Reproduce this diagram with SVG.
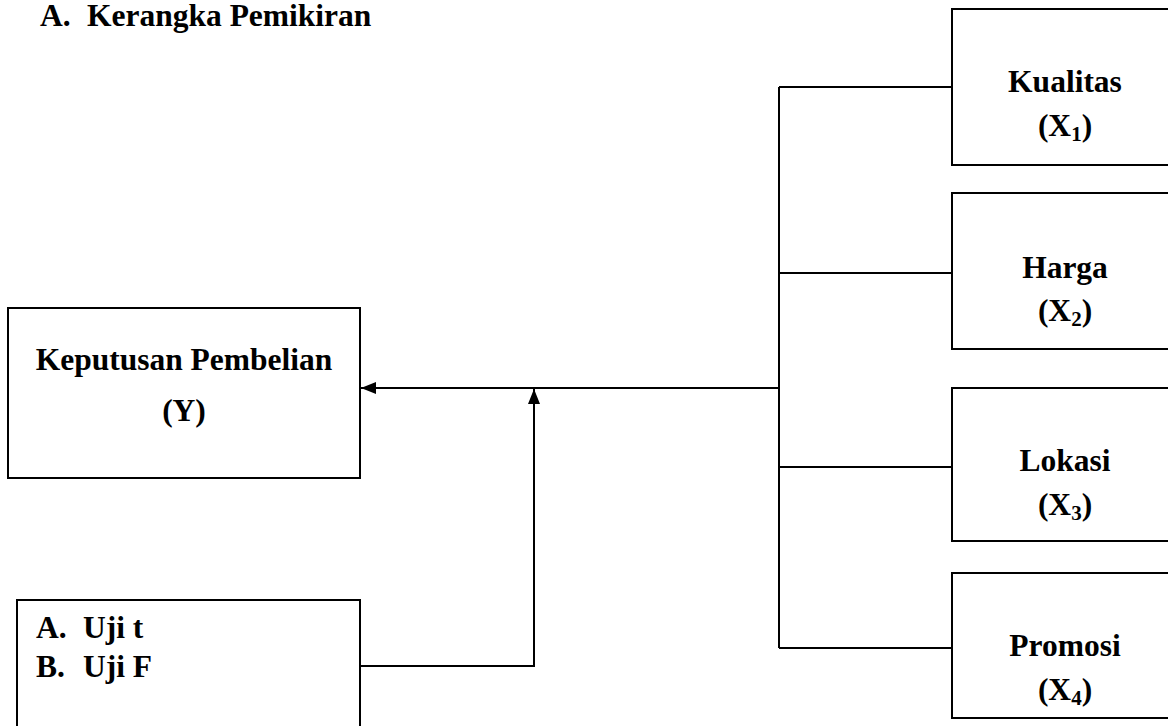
<svg xmlns="http://www.w3.org/2000/svg" width="1168" height="726" viewBox="0 0 1168 726">
<style>
text{font-family:"Liberation Serif","Times New Roman",serif;font-weight:bold;fill:#000}
.t{font-size:31.5px}
.c{text-anchor:middle}
.box{fill:#fff;stroke:#000;stroke-width:2}
.ln{fill:none;stroke:#000;stroke-width:2}
.sub{font-size:21px}
</style>
<defs>
<marker id="ah" markerWidth="15" markerHeight="12" refX="15" refY="6" orient="auto" markerUnits="userSpaceOnUse">
<path d="M0,0 L15,6 L0,12 Z" fill="#000"/>
</marker>
</defs>
<rect width="1168" height="726" fill="#fff"/>
<text class="t" x="40" y="26">A.</text>
<text class="t" x="87" y="26">Kerangka Pemikiran</text>
<g id="connectors">
<path class="ln" d="M779,87 V648"/>
<path class="ln" d="M779,87 H952"/>
<path class="ln" d="M779,273 H952"/>
<path class="ln" d="M779,467 H952"/>
<path class="ln" d="M779,648 H952"/>
<path class="ln" d="M779,388 H361" marker-end="url(#ah)"/>
<path class="ln" d="M360,666 H534 V389" marker-end="url(#ah)"/>
</g>
<g id="node-y">
<rect class="box" x="8" y="308" width="352" height="170"/>
<text class="t c" x="184" y="370">Keputusan Pembelian</text>
<text class="t c" x="184" y="421">(Y)</text>
</g>
<g id="node-uji">
<rect class="box" x="17" y="600" width="343" height="140"/>
<text class="t" x="36" y="638">A.</text>
<text class="t" x="83" y="638">Uji t</text>
<text class="t" x="36" y="677">B.</text>
<text class="t" x="83" y="677">Uji F</text>
</g>
<g id="node-x1">
<rect class="box" x="952" y="9" width="230" height="156"/>
<text class="t c" x="1065" y="92">Kualitas</text>
<text class="t c" x="1065" y="136">(X<tspan class="sub" dy="5">1</tspan><tspan dy="-5">)</tspan></text>
</g>
<g id="node-x2">
<rect class="box" x="952" y="193" width="230" height="156"/>
<text class="t c" x="1065" y="278">Harga</text>
<text class="t c" x="1065" y="321">(X<tspan class="sub" dy="5">2</tspan><tspan dy="-5">)</tspan></text>
</g>
<g id="node-x3">
<rect class="box" x="952" y="388" width="230" height="153"/>
<text class="t c" x="1065" y="471">Lokasi</text>
<text class="t c" x="1065" y="515">(X<tspan class="sub" dy="5">3</tspan><tspan dy="-5">)</tspan></text>
</g>
<g id="node-x4">
<rect class="box" x="952" y="573" width="230" height="145"/>
<text class="t c" x="1065" y="656">Promosi</text>
<text class="t c" x="1065" y="700">(X<tspan class="sub" dy="5">4</tspan><tspan dy="-5">)</tspan></text>
</g>
</svg>
